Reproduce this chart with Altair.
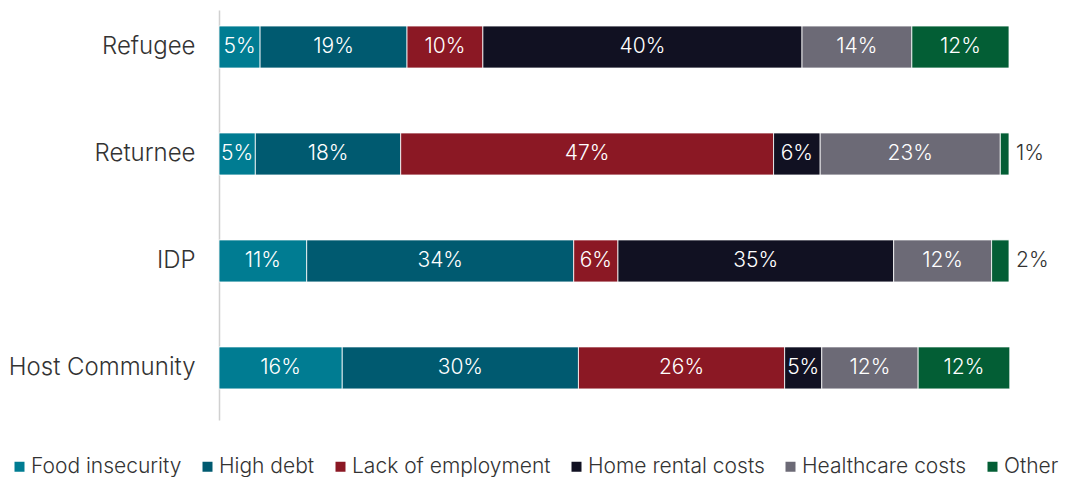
import altair as alt
import pandas as pd

groups = ["Refugee", "Returnee", "IDP", "Host Community"]
categories = ["Food insecurity", "High debt", "Lack of employment",
              "Home rental costs", "Healthcare costs", "Other"]
colors = ["#007C92", "#005A70", "#8B1824", "#111122", "#6C6A76", "#035E35"]

values = {
    "Refugee":        [5.2, 18.6, 9.6, 40.4, 13.9, 12.3],
    "Returnee":       [4.6, 18.4, 47.2, 5.9, 22.8, 1.1],
    "IDP":            [11.1, 33.8, 5.6, 34.9, 12.4, 2.2],
    "Host Community": [15.6, 29.9, 26.1, 4.7, 12.2, 11.6],
}

rows = []
for g in groups:
    for i, (c, v) in enumerate(zip(categories, values[g])):
        rows.append({"group": g, "cat": c, "order": i, "value": v})
df = pd.DataFrame(rows)

FONT = "Inter"

base = alt.Chart(df).transform_stack(
    stack="value", as_=["x0", "x1"], groupby=["group"],
    sort=[alt.SortField("order", order="ascending")]
).transform_calculate(
    mid="(datum.x0 + datum.x1) / 2",
    label="format(round(datum.value), 'd') + '%'",
    small="datum.value < 3"
)

yenc = alt.Y("group:N", sort=groups, title=None,
             scale=alt.Scale(paddingInner=0.607, paddingOuter=0.22, align=0.34),
             axis=alt.Axis(ticks=False, domainColor="#d0d0d0", domainWidth=1.5,
                           labelFontSize=24, labelFont=FONT, labelFontWeight=300,
                           labelColor="#333333", labelPadding=24, labelLimit=400))

bars = base.mark_bar(stroke="white", strokeWidth=0.8).encode(
    x=alt.X("x0:Q", scale=alt.Scale(domain=[0, 100]), axis=None),
    x2="x1:Q",
    y=yenc,
    color=alt.Color("cat:N", sort=categories,
                    scale=alt.Scale(domain=categories, range=colors),
                    legend=alt.Legend(title=None, orient="none", direction="horizontal",
                                      legendX=-210, legendY=446,
                                      symbolType="square", symbolSize=100,
                                      symbolStrokeWidth=0, labelFont=FONT,
                                      labelFontWeight=300, labelFontSize=21,
                                      labelColor="#333333", labelOffset=1,
                                      columnPadding=15, labelLimit=300)),
    order=alt.Order("order:Q"),
)

inside = base.transform_filter("!datum.small").mark_text(
    color="white", fontSize=21, font=FONT, fontWeight=300, align="center", baseline="middle"
).encode(
    x="mid:Q", y=alt.Y("group:N", sort=groups), text="label:N"
)

outside = base.transform_filter("datum.small").mark_text(
    color="#333333", fontSize=21, font=FONT, fontWeight=300, align="left",
    baseline="middle", dx=7
).encode(
    x="x1:Q", y=alt.Y("group:N", sort=groups), text="label:N"
)

chart = (bars + inside + outside).properties(
    width=790, height=410,
    autosize=alt.AutoSizeParams(type="none"),
    padding={"left": 211, "top": 2, "right": 50, "bottom": 58},
).configure_view(stroke=None)

chart.save("out.html", embed_options={"renderer": "svg", "actions": False})
